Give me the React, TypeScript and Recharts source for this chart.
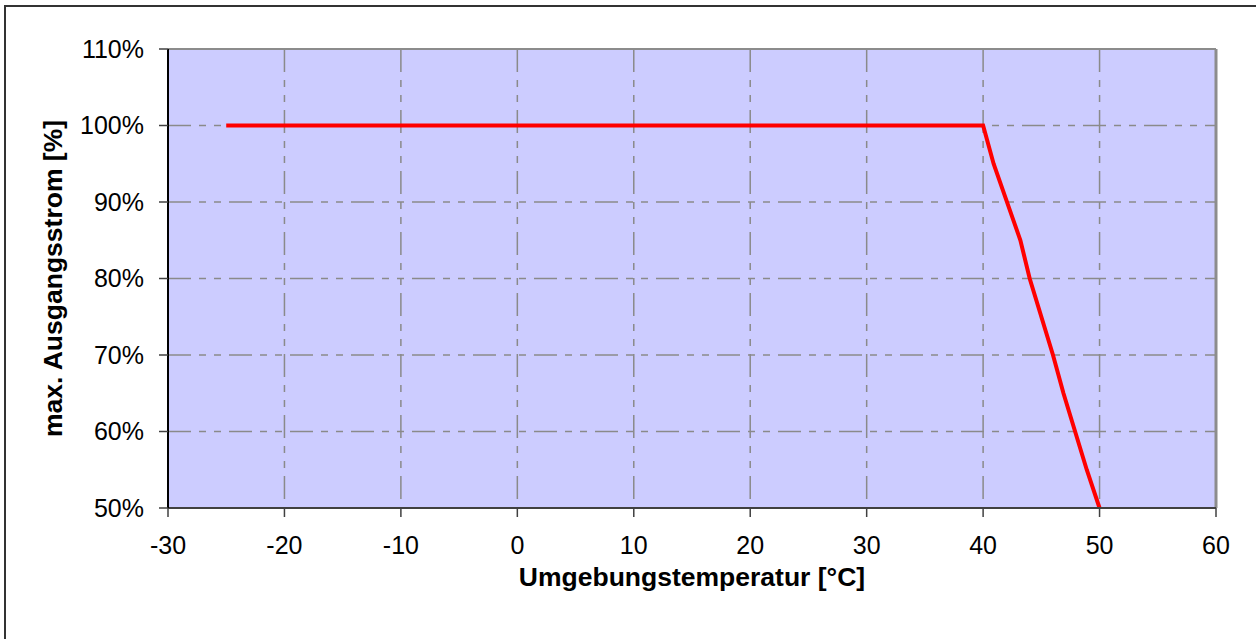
import React from 'react';
import {
  LineChart,
  Line,
  XAxis,
  YAxis,
  CartesianGrid,
  ReferenceLine,
  Label,
} from 'recharts';

// Derating curve: maximum output current vs. ambient temperature
const temperatures = [-25, -20, -10, 0, 10, 20, 30, 40, 40.9, 43.2, 44, 46, 46.9, 48.9, 50];
const currentPercent = [100, 100, 100, 100, 100, 100, 100, 100, 95, 85, 80, 70, 65, 55, 50];

const xTicks = [-30, -20, -10, 0, 10, 20, 30, 40, 50, 60];
const yTicks = [50, 60, 70, 80, 90, 100, 110];

const xTitle = 'Umgebungstemperatur [°C]';
const yTitle = 'max. Ausgangsstrom [%]';

const data = temperatures.map((t, i) => ({ t, v: currentPercent[i] }));

const FONT = '"Liberation Sans", Arial, sans-serif';

const YTitle = (props: any) => {
  const vb = props.viewBox || {};
  const cy = vb.y + vb.height / 2;
  const x0 = 62;
  return (
    <text
      x={x0}
      y={cy}
      transform={`rotate(-90, ${x0}, ${cy})`}
      textAnchor="middle"
      fontFamily={FONT}
      fontWeight="bold"
      fontSize={26.5}
      fill="#000"
    >
      {yTitle}
    </text>
  );
};

const XTitle = (props: any) => {
  const vb = props.viewBox || {};
  const cx = vb.x + vb.width / 2;
  return (
    <text
      x={cx}
      y={586}
      textAnchor="middle"
      fontFamily={FONT}
      fontWeight="bold"
      fontSize={26.5}
      fill="#000"
    >
      {xTitle}
    </text>
  );
};

export default function App() {
  return (
    <div
      style={{
        position: 'absolute',
        left: 0,
        top: 0,
        width: 1256,
        height: 639,
        background: '#fff',
        overflow: 'hidden',
      }}
    >
      <div
        style={{
          position: 'absolute',
          left: 4,
          top: 5,
          width: 1300,
          height: 700,
          borderLeft: '2px solid #333',
          borderTop: '2px solid #333',
        }}
      />
      <div style={{ position: 'absolute', left: 0, top: 0 }}>
        <LineChart
          width={1256}
          height={639}
          data={data}
          margin={{ top: 49, right: 40, bottom: 71, left: 68 }}
        >
          <CartesianGrid
            fill="#CCCCFF"
            stroke="#8a8a8a"
            strokeWidth={1.5}
            strokeDasharray="23 8 7 8 7 8"
          />
          <ReferenceLine y={110} stroke="#8c8c8c" strokeWidth={2} />
          <ReferenceLine x={60} stroke="#8c8c8c" strokeWidth={3} />
          <XAxis
            type="number"
            dataKey="t"
            domain={[-30, 60]}
            ticks={xTicks}
            interval={0}
            height={60}
            tickSize={9}
            tickMargin={19}
            axisLine={{ stroke: '#404040', strokeWidth: 2 }}
            tickLine={{ stroke: '#404040', strokeWidth: 1.5 }}
            tick={{ fill: '#000', fontSize: 25, fontFamily: FONT }}
          >
            <Label content={<XTitle />} />
          </XAxis>
          <YAxis
            type="number"
            domain={[50, 110]}
            ticks={yTicks}
            interval={0}
            width={100}
            tickSize={9}
            tickMargin={15}
            tickFormatter={(v: number) => `${v}%`}
            axisLine={{ stroke: '#000', strokeWidth: 2 }}
            tickLine={{ stroke: '#404040', strokeWidth: 1.5 }}
            tick={{ fill: '#000', fontSize: 25, fontFamily: FONT }}
          >
            <Label content={<YTitle />} />
          </YAxis>
          <Line
            type="linear"
            dataKey="v"
            stroke="#FF0000"
            strokeWidth={4}
            dot={false}
            isAnimationActive={false}
          />
        </LineChart>
      </div>
    </div>
  );
}
